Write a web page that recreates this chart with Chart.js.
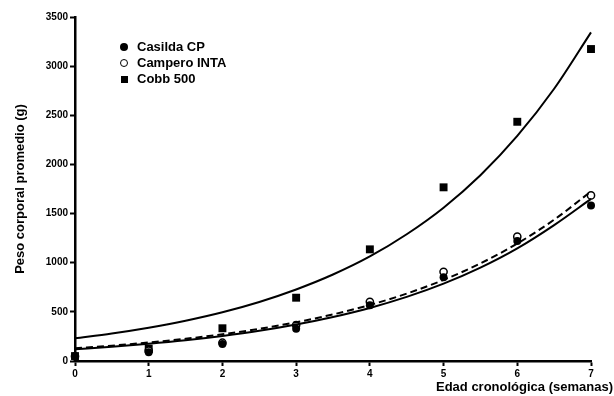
<!DOCTYPE html>
<html>
<head>
<meta charset="utf-8">
<script src="https://cdn.jsdelivr.net/npm/chart.js@4/dist/chart.umd.min.js"></script>
<style>
  html, body { margin: 0; padding: 0; background: #fff; }
  #wrap { position: relative; width: 614px; height: 396px; font-family: "Liberation Sans", Arial, sans-serif; }
  canvas { position: absolute; left: 0; top: 0; }
  .leg { position: absolute; left: 118px; height: 16px; line-height: 16px; font-weight: bold; font-size: 13px; color: #000; white-space: nowrap; }
  .leg .mk { position: absolute; left: 2px; top: 4px; width: 8px; height: 8px; box-sizing: border-box; }
  .leg .txt { position: absolute; left: 19px; top: 0; }
  .fc { background: #000; border-radius: 50%; }
  .oc { background: #fff; border: 1.5px solid #000; border-radius: 50%; }
  .sq { background: #000; left: 2.5px !important; top: 4.5px !important; width: 7px !important; height: 7px !important; }
  #xtitle { position: absolute; right: 1px; top: 379px; font-weight: bold; font-size: 13px; line-height: 15px; color: #000; white-space: nowrap; }
</style>
</head>
<body>
<div id="wrap">
  <canvas id="c" width="614" height="396"></canvas>
  <div id="legend"></div>
  <div id="xtitle"></div>
</div>
<script>
// ---- data ----
const weeks = [0, 1, 2, 3, 4, 5, 6, 7];
const casildaCP = [45, 88, 172, 329, 567, 851, 1220, 1582];
const camperoINTA = [48, 105, 186, 366, 603, 908, 1265, 1685];
const cobb500 = [50, 125, 333, 644, 1136, 1767, 2434, 3174];

// fitted curves
const fitWeeks = [0, 0.5, 1, 1.5, 2, 2.5, 3, 3.5, 4, 4.5, 5, 5.5, 6, 6.5, 7];
const casildaFit = [120, 145, 175, 211, 255, 307, 371, 448, 540, 652, 787, 950, 1146, 1383, 1650];
const camperoFit = [130, 156, 188, 226, 272, 327, 394, 474, 570, 686, 825, 993, 1195, 1438, 1725];
const cobbFit = [231, 280, 339, 410, 496, 601, 728, 880, 1064, 1290, 1560, 1890, 2290, 2770, 3344];

const xTicks = [0, 1, 2, 3, 4, 5, 6, 7];
const yTicks = [0, 500, 1000, 1500, 2000, 2500, 3000, 3500];

const seriesNames = ["Casilda CP", "Campero INTA", "Cobb 500"];
const xTitle = "Edad cronológica (semanas)";
const yTitle = "Peso corporal promedio (g)";

// ---- build ----
const pts = (xs, ys) => xs.map((x, i) => ({ x: x, y: ys[i] }));
const FONT = '"Liberation Sans", Arial, sans-serif';

const fitStyle = (dash) => ({
  showLine: true, borderColor: '#000', borderWidth: 2, pointRadius: 0,
  cubicInterpolationMode: 'monotone', borderDash: dash, clip: false, fill: false
});

new Chart(document.getElementById('c'), {
  type: 'scatter',
  data: {
    datasets: [
      Object.assign({ label: seriesNames[0] + ' fit', data: pts(fitWeeks, casildaFit) }, fitStyle([])),
      Object.assign({ label: seriesNames[1] + ' fit', data: pts(fitWeeks, camperoFit) }, fitStyle([7, 4])),
      Object.assign({ label: seriesNames[2] + ' fit', data: pts(fitWeeks, cobbFit) }, fitStyle([])),
      { label: seriesNames[0], data: pts(weeks, casildaCP), pointStyle: 'circle', pointRadius: 4,
        backgroundColor: '#000', borderColor: '#000', borderWidth: 0, clip: false },
      { label: seriesNames[1], data: pts(weeks, camperoINTA), pointStyle: 'circle', pointRadius: 3.6,
        backgroundColor: '#fff', borderColor: '#000', borderWidth: 1.5, clip: false },
      { label: seriesNames[2], data: pts(weeks, cobb500), pointStyle: 'rect', pointRadius: 5.6,
        backgroundColor: '#000', borderColor: '#000', borderWidth: 0, clip: false }
    ]
  },
  options: {
    responsive: false,
    animation: false,
    events: [],
    layout: { padding: { top: 17, right: 23, left: 0, bottom: 0 } },
    plugins: { legend: { display: false }, tooltip: { enabled: false } },
    scales: {
      x: {
        type: 'linear', min: 0, max: 7,
        afterBuildTicks: (s) => { s.ticks = xTicks.map(v => ({ value: v })); },
        afterFit: (s) => { s.height = 35; },
        ticks: { color: '#000', font: { family: FONT, size: 10, weight: 'bold' }, padding: 2,
                 callback: (v) => String(v) },
        grid: { drawOnChartArea: false, drawTicks: true, tickLength: 5, tickWidth: 2, tickColor: '#000' },
        border: { display: true, color: '#000', width: 2.5 }
      },
      y: {
        type: 'linear', min: 0, max: 3500,
        afterBuildTicks: (s) => { s.ticks = yTicks.map(v => ({ value: v })); },
        afterFit: (s) => { s.width = 75; },
        ticks: { color: '#000', font: { family: FONT, size: 10, weight: 'bold' }, padding: 2,
                 callback: (v) => String(v) },
        grid: { drawOnChartArea: false, drawTicks: true, tickLength: 5, tickWidth: 2, tickColor: '#000' },
        border: { display: true, color: '#000', width: 2.5 },
        title: { display: true, text: yTitle, color: '#000', font: { family: FONT, size: 13, weight: 'bold' },
                 padding: { top: 13, bottom: 0 } }
      }
    }
  }
});

// legend & x title as real HTML text
const legend = document.getElementById('legend');
const mkClass = ['fc', 'oc', 'sq'];
const legTop = [39, 55, 71];
seriesNames.forEach((n, i) => {
  const d = document.createElement('div');
  d.className = 'leg';
  d.style.top = legTop[i] + 'px';
  d.innerHTML = '<span class="mk ' + mkClass[i] + '"></span><span class="txt"></span>';
  d.querySelector('.txt').textContent = n;
  legend.appendChild(d);
});
document.getElementById('xtitle').textContent = xTitle;
</script>
</body>
</html>
